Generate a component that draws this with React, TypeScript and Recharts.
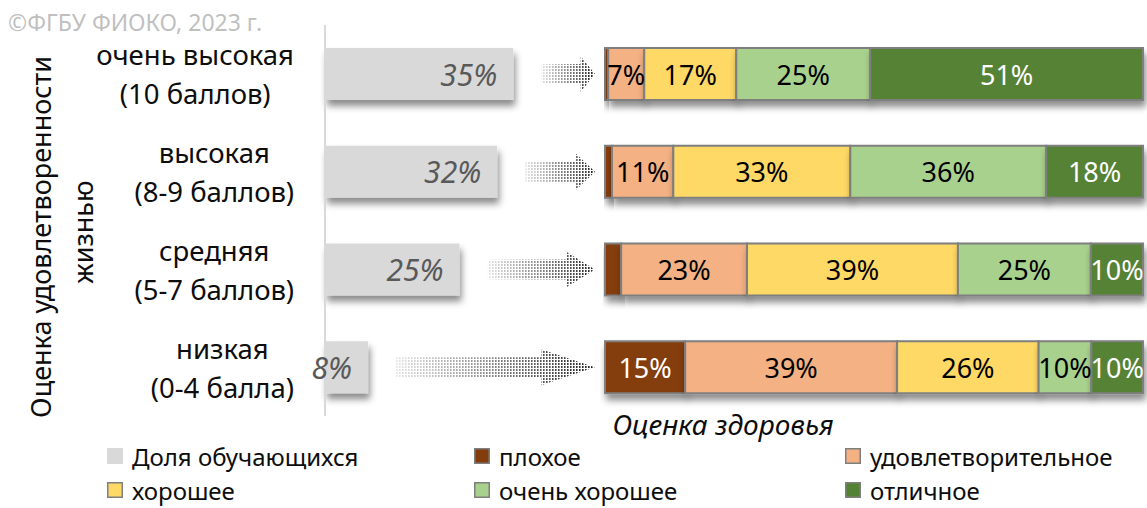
import { BarChart, Bar, XAxis, YAxis, LabelList } from "recharts"

const levels = ["очень высокая", "высокая", "средняя", "низкая"]
const levelPoints = ["(10 баллов)", "(8-9 баллов)", "(5-7 баллов)", "(0-4 балла)"]

// доля обучающихся, %
const studentShare = [35, 32, 25, 8]

// оценка здоровья, % внутри каждой группы
const poor = [0.6, 1.3, 3.0, 14.9]
const satisfactory = [6.7, 11.4, 23.4, 39.4]
const good = [17.1, 32.9, 39.2, 26.3]
const veryGood = [24.9, 36.4, 24.7, 9.8]
const excellent = [50.7, 18.0, 9.7, 9.6]

const FONT = "'Noto Sans', sans-serif"
const TICK_SIZE = 27.5

const healthSeries = [
  { key: "poor", name: "плохое", color: "#843C0C", text: "#ffffff" },
  { key: "satisfactory", name: "удовлетворительное", color: "#F4B183", text: "#000000" },
  { key: "good", name: "хорошее", color: "#FFD966", text: "#000000" },
  { key: "veryGood", name: "очень хорошее", color: "#A9D18E", text: "#000000" },
  { key: "excellent", name: "отличное", color: "#548235", text: "#ffffff" },
]

const data = levels.map((level, i) => ({
  level,
  share: studentShare[i],
  poor: poor[i],
  satisfactory: satisfactory[i],
  good: good[i],
  veryGood: veryGood[i],
  excellent: excellent[i],
}))

let measureCtx: CanvasRenderingContext2D | null = null
function textWidth(s: string) {
  if (!measureCtx) measureCtx = document.createElement("canvas").getContext("2d")
  if (!measureCtx) return s.length * TICK_SIZE * 0.55
  measureCtx.font = `${TICK_SIZE}px 'Noto Sans'`
  return measureCtx.measureText(s).width
}

// two-line label: block right-aligned, each line centred in the block
function LevelTick(props: any) {
  const { y, payload } = props
  const i = levels.indexOf(payload.value)
  const right = 294
  const w = Math.max(textWidth(payload.value), textWidth(levelPoints[i]))
  const cx = right - w / 2
  return (
    <g fontFamily={FONT} fontSize={TICK_SIZE} fill="#0d0d0d" textAnchor="middle">
      <text x={cx} y={y - 19} dominantBaseline="central">{payload.value}</text>
      <text x={cx} y={y + 20} dominantBaseline="central">{levelPoints[i]}</text>
    </g>
  )
}

function ShareBar(props: any) {
  const { x, y, width, height } = props
  const cy = y + height / 2
  const x0 = x + width + 28
  const x1 = 595
  const head = Math.max(14, (x1 - x0) * 0.27)
  const hx = x1 - head
  const d = `M${x0},${cy - 10} L${hx},${cy - 10} L${hx},${cy - 18} L${x1},${cy} L${hx},${cy + 18} L${hx},${cy + 10} L${x0},${cy + 10} Z`
  return (
    <g>
      <rect x={x} y={y} width={width} height={height} fill="#d9d9d9" filter="url(#barShadow)" />
      <path d={d} fill="url(#dots)" mask="url(#fade)" />
    </g>
  )
}

function ShareLabel(props: any) {
  const { x, y, width, height, value } = props
  return (
    <text
      x={x + width - 16}
      y={y + height / 2}
      dominantBaseline="central"
      textAnchor="end"
      fontFamily={FONT}
      fontStyle="italic"
      fontSize={30}
      fill="#595959"
    >
      {value}%
    </text>
  )
}

function HealthSegment(props: any) {
  const { x, y, width, height, fill } = props
  if (!width || width <= 0) return null
  return (
    <rect
      x={x}
      y={y}
      width={width}
      height={height}
      fill={fill}
      stroke="#7f7f7f"
      strokeWidth={2}
      filter="url(#barShadow)"
    />
  )
}

const segLabel = (color: string) => (props: any) => {
  const { x, y, width, height, value } = props
  if (width < 20) return null
  return (
    <text
      x={x + width / 2}
      y={y + height / 2}
      dominantBaseline="central"
      textAnchor="middle"
      fontFamily={FONT}
      fontSize={27}
      fill={color}
    >
      {Math.round(value)}%
    </text>
  )
}

const legendItems = [
  { name: "Доля обучающихся", color: "#d9d9d9", border: false },
  ...healthSeries.map((s) => ({ name: s.name, color: s.color, border: true })),
]
const legendCols = [107, 474, 845]
const legendRows = [456, 490]

export default function App() {
  return (
    <div style={{ position: "absolute", left: 0, top: 0, width: 1147, height: 508, background: "#fff", overflow: "hidden" }}>
      <svg width={0} height={0} style={{ position: "absolute" }}>
        <defs>
          <filter id="barShadow" x="-10%" y="-30%" width="130%" height="180%">
            <feDropShadow dx={2} dy={6} stdDeviation={3.5} floodColor="#000" floodOpacity={0.45} />
          </filter>
          <pattern id="dots" patternUnits="userSpaceOnUse" width={3} height={3}>
            <rect x={0} y={0} width={1.6} height={2} fill="#222" />
          </pattern>
          <linearGradient id="fadeGrad" x1="0" y1="0" x2="1" y2="0">
            <stop offset="0" stopColor="#fff" stopOpacity={0.12} />
            <stop offset="1" stopColor="#fff" stopOpacity={1} />
          </linearGradient>
          <mask id="fade" maskContentUnits="objectBoundingBox">
            <rect x={0} y={0} width={1} height={1} fill="url(#fadeGrad)" />
          </mask>
        </defs>
      </svg>

      <div style={{ position: "absolute", left: 0, top: 0 }}>
        <BarChart layout="vertical" width={600} height={430} data={data} margin={{ top: 25, right: 6, bottom: 14, left: 0 }}>
          <XAxis type="number" domain={[0, 50]} hide />
          <YAxis
            type="category"
            dataKey="level"
            width={325}
            axisLine={{ stroke: "#d9d9d9", strokeWidth: 2 }}
            tickLine={false}
            tick={<LevelTick />}
          />
          <Bar dataKey="share" barSize={52} shape={ShareBar} isAnimationActive={false}>
            <LabelList dataKey="share" content={ShareLabel} />
          </Bar>
        </BarChart>
      </div>

      <div style={{ position: "absolute", left: 600, top: 0 }}>
        <BarChart layout="vertical" width={547} height={430} data={data} margin={{ top: 25, right: 4, bottom: 14, left: 5 }}>
          <XAxis type="number" domain={[0, 100]} hide />
          <YAxis type="category" dataKey="level" hide />
          {healthSeries.map((s) => (
            <Bar
              key={s.key}
              dataKey={s.key}
              name={s.name}
              stackId="health"
              fill={s.color}
              barSize={52}
              shape={HealthSegment}
              isAnimationActive={false}
            >
              <LabelList dataKey={s.key} content={segLabel(s.text)} />
            </Bar>
          ))}
        </BarChart>
      </div>

      <svg width={1147} height={508} style={{ position: "absolute", left: 0, top: 0, pointerEvents: "none" }}>
        <text x={8} y={31} fontFamily={FONT} fontSize={23} fill="#bfbfbf">©ФГБУ ФИОКО, 2023 г.</text>
        <g fontFamily={FONT} fontSize={27} fill="#0d0d0d" textAnchor="middle">
          <text transform="translate(40,237) rotate(-90)" dominantBaseline="central">Оценка удовлетворенности</text>
          <text transform="translate(82,232) rotate(-90)" dominantBaseline="central">жизнью</text>
        </g>
        <text x={723} y={435} fontFamily={FONT} fontSize={28} fontStyle="italic" fill="#0d0d0d" textAnchor="middle">
          Оценка здоровья
        </text>

        <g fontFamily={FONT} fontSize={24} fill="#0d0d0d">
          {legendItems.map((item, i) => {
            const lx = legendCols[i % 3]
            const ly = legendRows[Math.floor(i / 3)]
            return (
              <g key={item.name}>
                {item.border ? (
                  <rect x={lx + 0.75} y={ly - 7.25} width={14.5} height={14.5} fill={item.color} stroke="#7f7f7f" strokeWidth={1.5} />
                ) : (
                  <rect x={lx} y={ly - 8} width={16} height={16} fill={item.color} />
                )}
                <text x={lx + 25} y={ly} dominantBaseline="central">{item.name}</text>
              </g>
            )
          })}
        </g>
      </svg>
    </div>
  )
}
